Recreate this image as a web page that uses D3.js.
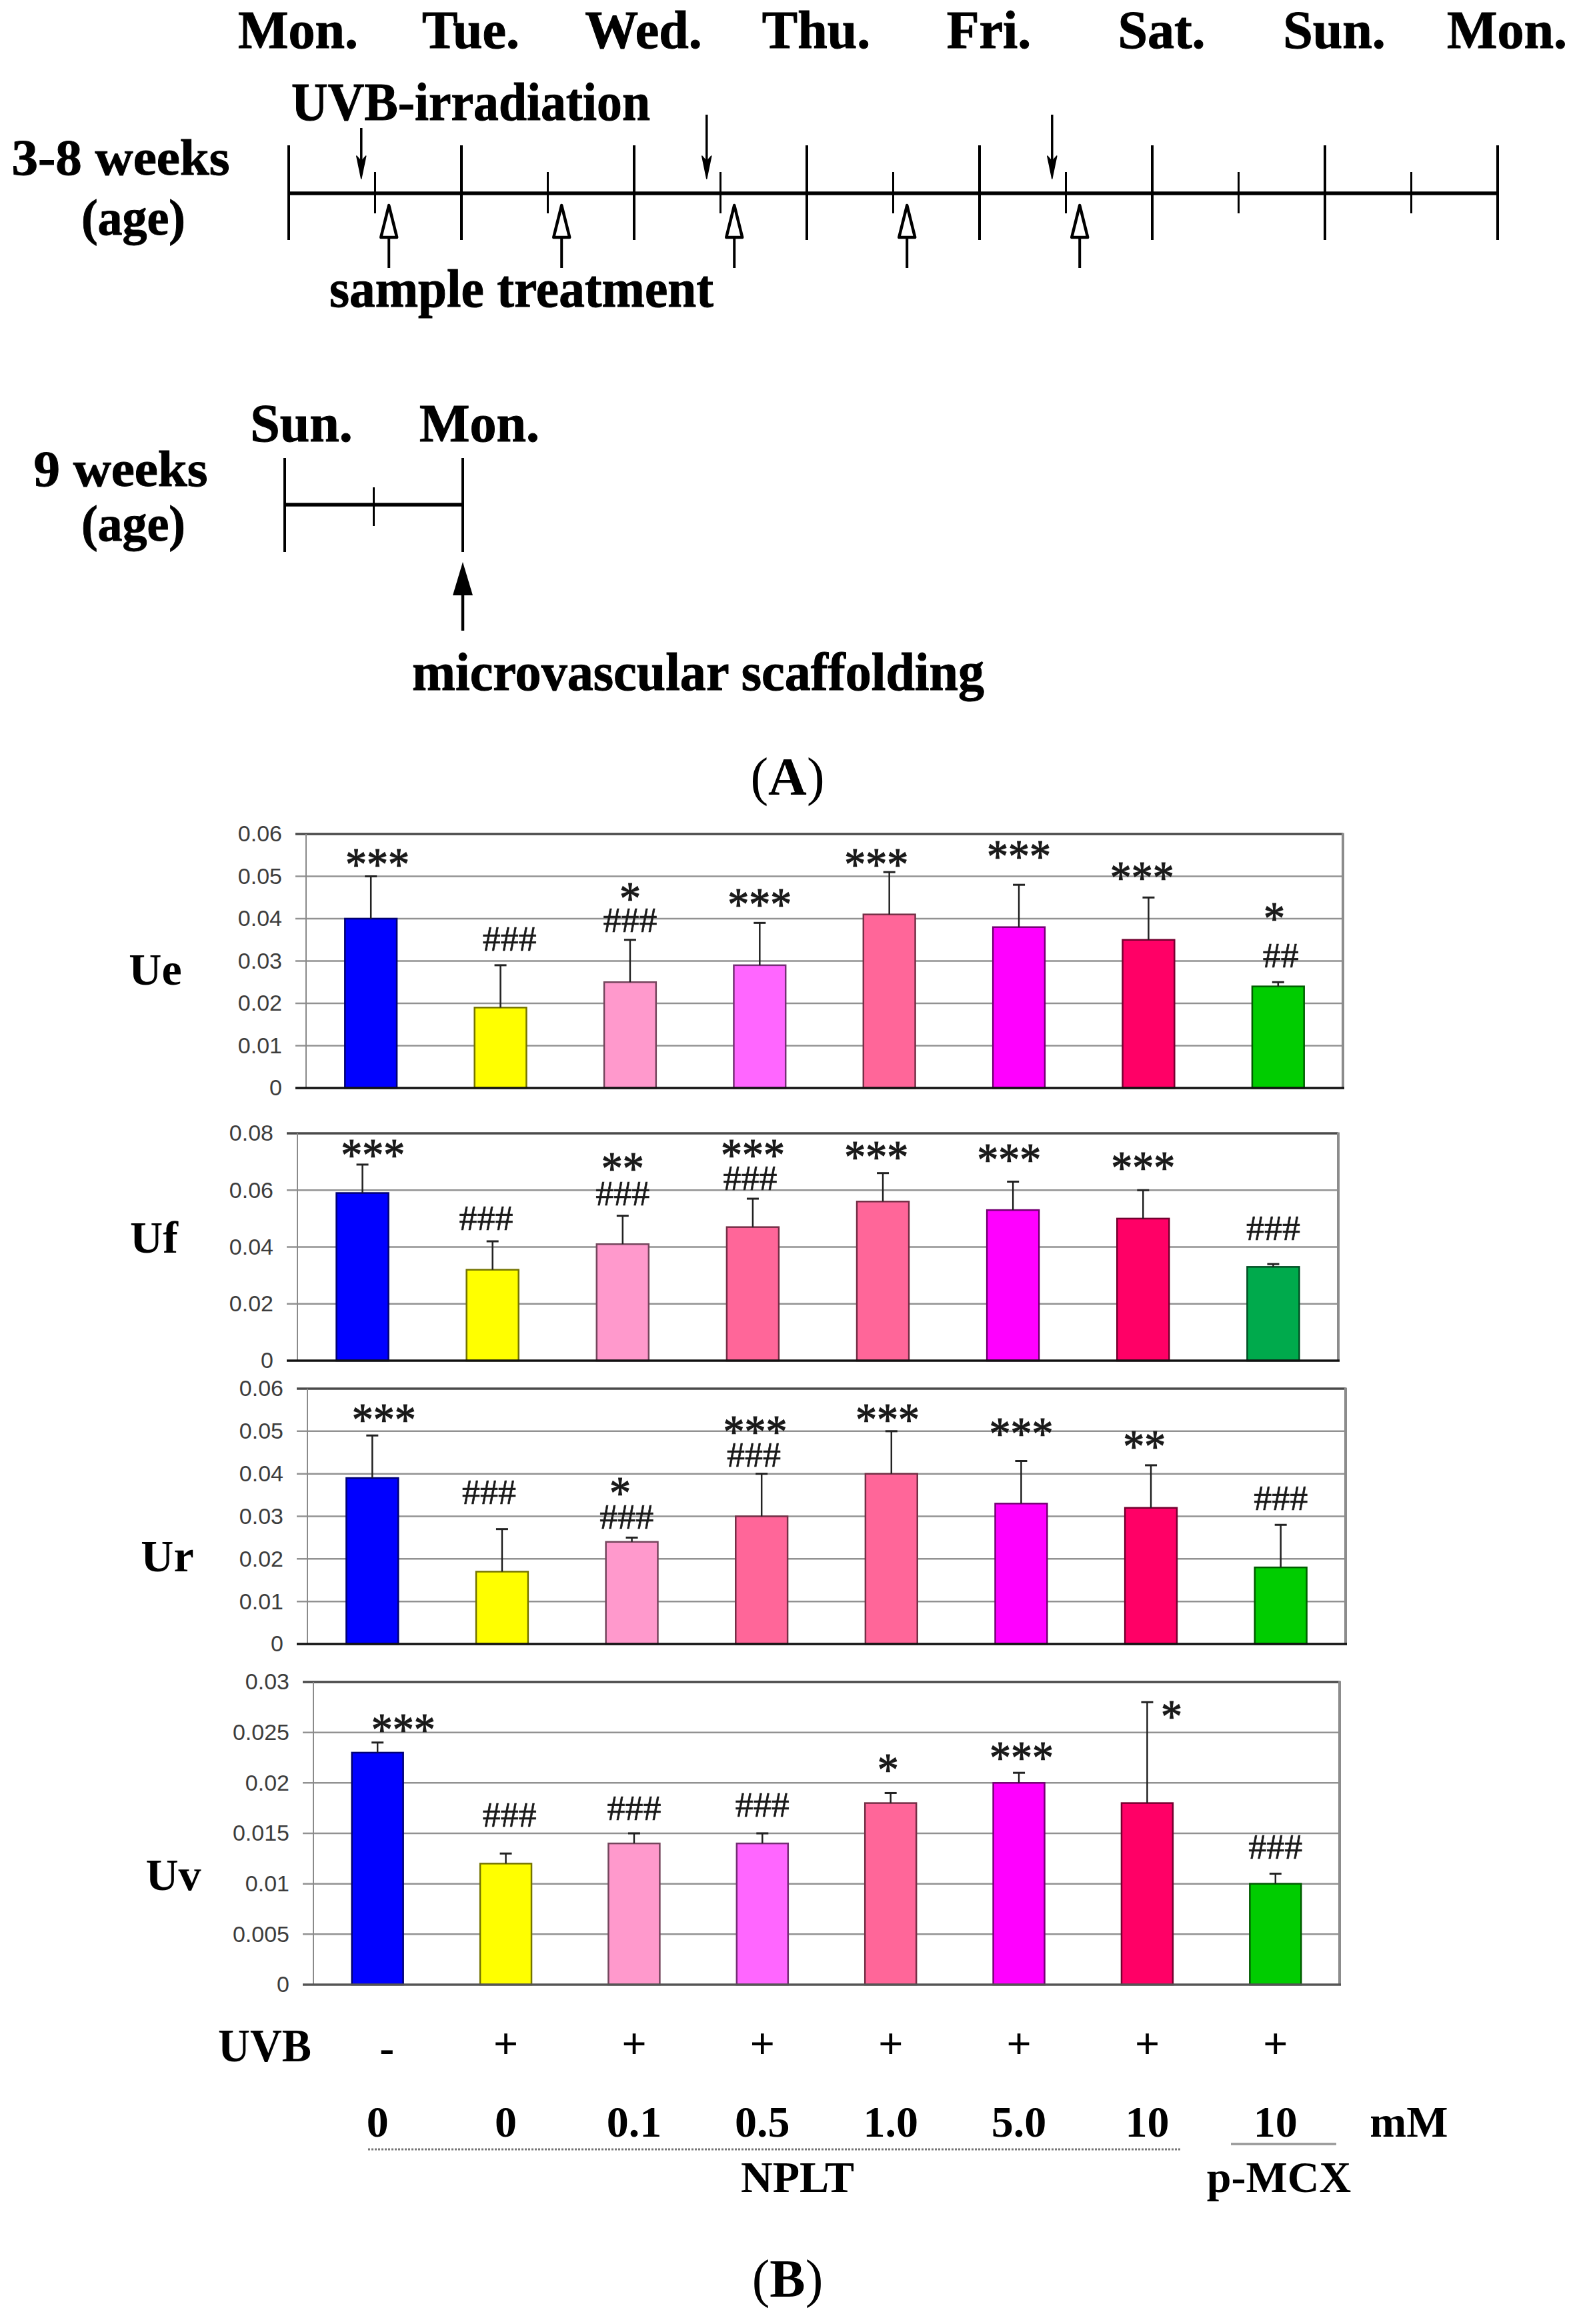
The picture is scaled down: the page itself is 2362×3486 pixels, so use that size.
<!DOCTYPE html>
<html><head><meta charset="utf-8">
<script src="https://cdn.jsdelivr.net/npm/d3@7/dist/d3.min.js"></script>
<style>html,body{margin:0;padding:0;background:#fff}svg{display:block}</style>
</head><body>
<svg id="fig" width="2362" height="3486" xmlns="http://www.w3.org/2000/svg"></svg>
<script>
// ================= DATA =================
// Panel A: schedule (day index from Monday = 0)
const weekDays = ["Mon.","Tue.","Wed.","Thu.","Fri.","Sat.","Sun.","Mon."];
const uvbIrradiationDays = [0.42, 2.42, 4.42];
const sampleTreatmentDays = [0.58, 1.58, 2.58, 3.58, 4.58];
const week9Days = ["Sun.","Mon."];
const scaffoldingDays = [1];

// Panel B
const groups = ["Control","UVB","NPLT 0.1","NPLT 0.5","NPLT 1.0","NPLT 5.0","NPLT 10","p-MCX 10"];
const uvbRow = ["-","+","+","+","+","+","+","+"];
const doseRow = ["0","0","0.1","0.5","1.0","5.0","10","10"];

const ueMean = [0.040,0.019,0.025,0.029,0.041,0.038,0.035,0.024];
const ueSD   = [0.010,0.010,0.010,0.010,0.010,0.010,0.010,0.001];
const ufMean = [0.059,0.032,0.041,0.047,0.056,0.053,0.050,0.033];
const ufSD   = [0.010,0.010,0.010,0.010,0.010,0.010,0.010,0.001];
const urMean = [0.039,0.017,0.024,0.030,0.040,0.033,0.032,0.018];
const urSD   = [0.010,0.010,0.001,0.010,0.010,0.010,0.010,0.010];
const uvMean = [0.023,0.012,0.014,0.014,0.018,0.020,0.018,0.010];
const uvSD   = [0.001,0.001,0.001,0.001,0.001,0.001,0.010,0.001];

const ueTicks = [0,0.01,0.02,0.03,0.04,0.05,0.06];
const ufTicks = [0,0.02,0.04,0.06,0.08];
const urTicks = [0,0.01,0.02,0.03,0.04,0.05,0.06];
const uvTicks = [0,0.005,0.01,0.015,0.02,0.025,0.03];

// significance marks: [bar index, label, level in value units, shift in band steps]
const ueMarks = [[0,"***",0.0543,0.05],[1,"###",0.0353,0.07],[2,"*",0.0463,0],[2,"###",0.0397,0],
  [3,"***",0.0449,0],[4,"***",0.0543,-0.10],[5,"***",0.0562,0],[6,"***",0.0512,-0.05],
  [7,"*",0.0416,-0.03],[7,"##",0.0313,0.02]];
const ufMarks = [[0,"***",0.0746,0.08],[1,"###",0.0502,-0.05],[2,"**",0.0699,0],[2,"###",0.0589,0],
  [3,"***",0.0746,0],[3,"###",0.0643,-0.02],[4,"***",0.0739,-0.05],[5,"***",0.0730,-0.03],
  [6,"***",0.0701,0],[7,"###",0.0467,0]];
const urMarks = [[0,"***",0.0542,0.09],[1,"###",0.0357,-0.10],[2,"*",0.0370,-0.09],[2,"###",0.0299,-0.04],
  [3,"***",0.0514,-0.05],[3,"###",0.0445,-0.06],[4,"***",0.0542,-0.03],[5,"***",0.0509,0],
  [6,"**",0.0479,-0.05],[7,"###",0.0343,0]];
const uvMarks = [[0,"***",0.0259,0.20],[1,"###",0.01685,0.03],[2,"###",0.0175,0],[3,"###",0.01784,0],
  [4,"*",0.0219,-0.02],[5,"***",0.0231,0.02],[6,"*",0.0272,0.19],[7,"###",0.01368,0]];

// ================= DRAWING =================
const svg = d3.select("#fig");
const serif = "'Liberation Serif','Times New Roman',serif";
const sans = "'Liberation Sans',Arial,sans-serif";

function txt(g, s, x, y, size, opts = {}) {
  const t = g.append("text").attr("x", x).attr("y", y)
    .attr("font-family", opts.family || serif)
    .attr("font-size", size)
    .attr("font-weight", opts.weight || "bold")
    .attr("text-anchor", opts.anchor || "middle")
    .attr("fill", opts.fill || "#000")
    .text(s);
  if (opts.len) t.attr("textLength", opts.len).attr("lengthAdjust", "spacingAndGlyphs");
  if (opts.heavy) t.attr("stroke", opts.fill || "#000").attr("stroke-width", opts.heavy);
  return t;
}

// ---------- Panel A ----------
const gA = svg.append("g");
const t1 = d3.scaleLinear().domain([0, 7]).range([433, 2246]);
const line1Y = 290;
gA.append("line").attr("x1", t1(0)).attr("x2", t1(7)).attr("y1", line1Y).attr("y2", line1Y)
  .attr("stroke", "#000").attr("stroke-width", 5.5);
gA.append("g").selectAll("line").data(d3.range(weekDays.length)).join("line")
  .attr("x1", d => t1(d)).attr("x2", d => t1(d)).attr("y1", 218).attr("y2", 360)
  .attr("stroke", "#000").attr("stroke-width", 4);
gA.append("g").selectAll("line").data(d3.range(7).map(d => d + 0.5)).join("line")
  .attr("x1", d => t1(d)).attr("x2", d => t1(d)).attr("y1", 258).attr("y2", 320)
  .attr("stroke", "#000").attr("stroke-width", 3);
weekDays.forEach((d, i) => txt(gA, d, t1(i) + 14, 72, 80, {heavy: 1}));

// UVB-irradiation arrows (down)
uvbIrradiationDays.forEach((d, i) => {
  const x = t1(d), y0 = i === 0 ? 192 : 172, tip = 268;
  gA.append("line").attr("x1", x).attr("x2", x).attr("y1", y0).attr("y2", tip - 20)
    .attr("stroke", "#000").attr("stroke-width", 3.5);
  gA.append("path").attr("d", `M${x - 7},${tip - 34} L${x},${tip} L${x + 7},${tip - 34} L${x},${tip - 26} Z`)
    .attr("fill", "#000").attr("stroke", "#000").attr("stroke-width", 1.5).attr("stroke-linejoin", "round");
});
txt(gA, "UVB-irradiation", 437, 180, 80, {anchor: "start", len: 538, heavy: 1});

// sample treatment arrows (up, hollow head)
sampleTreatmentDays.forEach(d => {
  const x = t1(d);
  gA.append("line").attr("x1", x).attr("x2", x).attr("y1", 356).attr("y2", 402)
    .attr("stroke", "#000").attr("stroke-width", 4);
  gA.append("path").attr("d", `M${x},308 L${x - 12},356 L${x + 12},356 Z`)
    .attr("fill", "#fff").attr("stroke", "#000").attr("stroke-width", 4.5).attr("stroke-linejoin", "round");
});
txt(gA, "sample treatment", 494, 460, 80, {anchor: "start", len: 576, heavy: 1});
txt(gA, "3-8 weeks", 181, 262, 76, {len: 327, heavy: 1});
txt(gA, "(age)", 200, 352, 76, {len: 156, heavy: 1});

// 9 weeks timeline
const t2 = d3.scaleLinear().domain([0, 1]).range([427, 694]);
const line2Y = 757;
gA.append("line").attr("x1", t2(0)).attr("x2", t2(1)).attr("y1", line2Y).attr("y2", line2Y)
  .attr("stroke", "#000").attr("stroke-width", 5.5);
gA.append("g").selectAll("line").data(d3.range(week9Days.length)).join("line")
  .attr("x1", d => t2(d)).attr("x2", d => t2(d)).attr("y1", 687).attr("y2", 828)
  .attr("stroke", "#000").attr("stroke-width", 4);
gA.append("line").attr("x1", t2(0.5)).attr("x2", t2(0.5)).attr("y1", 731).attr("y2", 789)
  .attr("stroke", "#000").attr("stroke-width", 3);
week9Days.forEach((d, i) => txt(gA, d, t2(i) + 25, 662, 80, {heavy: 1}));
txt(gA, "9 weeks", 181, 729, 76, {len: 261, heavy: 1});
txt(gA, "(age)", 200, 811, 76, {len: 156, heavy: 1});
scaffoldingDays.forEach(d => {
  const x = t2(d);
  gA.append("line").attr("x1", x).attr("x2", x).attr("y1", 885).attr("y2", 946)
    .attr("stroke", "#000").attr("stroke-width", 4.5);
  gA.append("path").attr("d", `M${x},843 L${x - 15},893 L${x + 15},893 Z`).attr("fill", "#000");
});
txt(gA, "microvascular scaffolding", 618, 1035, 80, {anchor: "start", len: 858, heavy: 1});

// (A)
const labA = gA.append("text").attr("x", 1181).attr("y", 1192).attr("text-anchor", "middle")
  .attr("font-family", serif).attr("font-size", 80);
labA.append("tspan").text("(");
labA.append("tspan").attr("font-weight", "bold").text("A");
labA.append("tspan").text(")");

// ---------- Panel B ----------
const colorsA = ["#0000ff","#ffff00","#ff99cc","#ff66ff","#ff6699","#ff00ff","#ff0066","#00cc00"];
const colorsB = ["#0000ff","#ffff00","#ff99cc","#ff6699","#ff6699","#ff00ff","#ff0066","#00aa4c"];
const colorsC = ["#0000ff","#ffff00","#ff99cc","#ff6699","#ff6699","#ff00ff","#ff0066","#00cc00"];

const charts = [
  {name: "Ue", mean: ueMean, sd: ueSD, ticks: ueTicks, marks: ueMarks, colors: colorsA,
   left: 459, right: 2014, top: 1251, bottom: 1632, labelX: 233, labelY: 1477, base: "#111"},
  {name: "Uf", mean: ufMean, sd: ufSD, ticks: ufTicks, marks: ufMarks, colors: colorsB,
   left: 446, right: 2007, top: 1700, bottom: 2041, labelX: 231, labelY: 1879, base: "#111"},
  {name: "Ur", mean: urMean, sd: urSD, ticks: urTicks, marks: urMarks, colors: colorsC,
   left: 461, right: 2018, top: 2083, bottom: 2466, labelX: 251, labelY: 2357, base: "#111"},
  {name: "Uv", mean: uvMean, sd: uvSD, ticks: uvTicks, marks: uvMarks, colors: colorsA,
   left: 470, right: 2009, top: 2523, bottom: 2977, labelX: 260, labelY: 2835, base: "#555"}
];

const fmt = d => d === 0 ? "0" : String(+d.toFixed(3));
let lastX = null;

charts.forEach(c => {
  const g = svg.append("g");
  const x = d3.scaleBand().domain(d3.range(groups.length)).range([c.left, c.right])
    .paddingInner(0.6).paddingOuter(0.3);
  const maxV = c.ticks[c.ticks.length - 1];
  const y = d3.scaleLinear().domain([0, maxV]).range([c.bottom, c.top]);
  lastX = x;

  // gridlines (inner)
  g.append("g").selectAll("line").data(c.ticks.slice(1, -1)).join("line")
    .attr("x1", c.left - 16).attr("x2", c.right).attr("y1", d => y(d)).attr("y2", d => y(d))
    .attr("stroke", "#929292").attr("stroke-width", 2.5);
  // top frame line
  g.append("line").attr("x1", c.left - 16).attr("x2", c.right).attr("y1", y(maxV)).attr("y2", y(maxV))
    .attr("stroke", "#4a4a4a").attr("stroke-width", 3.5);
  // left axis line & right border
  g.append("line").attr("x1", c.left).attr("x2", c.left).attr("y1", c.top).attr("y2", c.bottom)
    .attr("stroke", "#8a8a8a").attr("stroke-width", 2);
  g.append("line").attr("x1", c.right).attr("x2", c.right).attr("y1", c.top - 1.5).attr("y2", c.bottom)
    .attr("stroke", "#8c8c8c").attr("stroke-width", 4);

  // axis labels
  const ax = g.append("g").attr("transform", `translate(${c.left},0)`)
    .call(d3.axisLeft(y).tickValues(c.ticks).tickSize(0).tickPadding(36).tickFormat(fmt));
  ax.select(".domain").remove();
  ax.selectAll("text").attr("font-family", sans).attr("font-size", 34).attr("fill", "#3c3c3c");

  // bars
  g.append("g").selectAll("rect").data(c.mean).join("rect")
    .attr("x", (d, i) => x(i)).attr("width", x.bandwidth())
    .attr("y", d => y(d)).attr("height", d => c.bottom - y(d))
    .attr("fill", (d, i) => c.colors[i])
    .attr("stroke", (d, i) => d3.color(c.colors[i]).darker(2.2))
    .attr("stroke-width", 2.5);

  // error bars
  const eg = g.append("g").attr("stroke", "#222").attr("stroke-width", 2.5);
  c.mean.forEach((m, i) => {
    const cx = x(i) + x.bandwidth() / 2;
    const yt = y(m + c.sd[i]);
    eg.append("line").attr("x1", cx).attr("x2", cx).attr("y1", y(m)).attr("y2", yt);
    eg.append("line").attr("x1", cx - 9).attr("x2", cx + 9).attr("y1", yt).attr("y2", yt).attr("stroke-width", 3);
  });

  // baseline
  g.append("line").attr("x1", c.left - 16).attr("x2", c.right + 2).attr("y1", y(0)).attr("y2", y(0))
    .attr("stroke", c.base).attr("stroke-width", 3.5);

  // significance marks: one text element per bar, one tspan per mark line
  const byBar = d3.group(c.marks, m => m[0]);
  byBar.forEach((list, i) => {
    const t = g.append("text").attr("font-family", serif).attr("text-anchor", "middle")
      .attr("fill", "#1a1a1a").attr("stroke", "#1a1a1a");
    list.forEach(([bi, label, lvl, sh]) => {
      const cxm = x(bi) + x.bandwidth() / 2 + sh * x.step();
      const isStar = label[0] === "*";
      const size = isStar ? 70 : 53;
      const yy = y(lvl) + (isStar ? 0.47 * size : 0.34 * size);
      t.append("tspan").attr("x", cxm).attr("y", yy).attr("font-size", size)
        .attr("stroke-width", isStar ? 1.2 : 0.6)
        .attr("textLength", label.length * (isStar ? 32 : 27)).attr("lengthAdjust", "spacingAndGlyphs")
        .text(label);
    });
  });

  // series label
  txt(g, c.name, c.labelX, c.labelY, 68);
});

// ---------- bottom labels ----------
const gL = svg.append("g");
const cx = i => lastX(i) + lastX.bandwidth() / 2;
txt(gL, "UVB", 397, 3092, 70, {len: 140});
uvbRow.forEach((s, i) => txt(gL, s, cx(i) + (s === "-" ? 14 : 0), s === "+" ? 3088 : 3094, 66));
doseRow.forEach((s, i) => txt(gL, s, cx(i), 3205, 66));
txt(gL, "mM", 2113, 3205, 66);
gL.append("line").attr("x1", 552).attr("x2", 1772).attr("y1", 3224).attr("y2", 3224)
  .attr("stroke", "#777").attr("stroke-width", 3).attr("stroke-dasharray", "3,2");
gL.append("line").attr("x1", 1846).attr("x2", 2004).attr("y1", 3216).attr("y2", 3216)
  .attr("stroke", "#999").attr("stroke-width", 3.5);
txt(gL, "NPLT", 1196, 3288, 66);
txt(gL, "p-MCX", 1918, 3288, 66);

const labB = gL.append("text").attr("x", 1181).attr("y", 3445).attr("text-anchor", "middle")
  .attr("font-family", serif).attr("font-size", 80);
labB.append("tspan").text("(");
labB.append("tspan").attr("font-weight", "bold").text("B");
labB.append("tspan").text(")");
</script>
</body></html>
